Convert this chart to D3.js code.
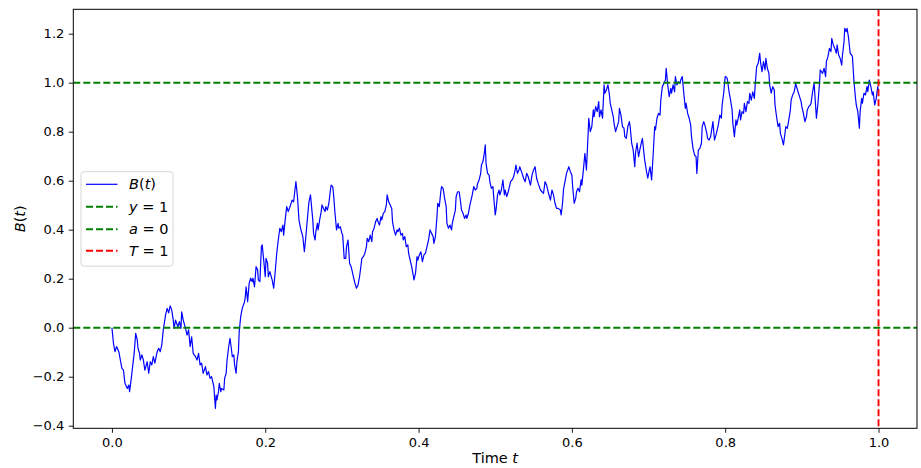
<!DOCTYPE html>
<html><head><meta charset="utf-8">
<script src="https://cdn.jsdelivr.net/npm/d3@7"></script>
<style>
body{margin:0;background:#fff;}
svg{display:block;font-family:"DejaVu Sans",sans-serif;}
</style></head>
<body><svg id="c" width="921" height="468"></svg>
<script>
const tVals = [0.000,0.002,0.004,0.006,0.009,0.011,0.013,0.015,0.017,0.020,0.022,0.023,0.025,0.027,0.029,0.031,0.033,0.034,0.036,0.037,0.039,0.041,0.043,0.046,0.048,0.050,0.052,0.054,0.056,0.059,0.061,0.063,0.065,0.067,0.070,0.072,0.074,0.076,0.078,0.080,0.081,0.083,0.086,0.088,0.090,0.091,0.093,0.096,0.098,0.100,0.102,0.104,0.106,0.109,0.111,0.113,0.115,0.117,0.119,0.122,0.124,0.126,0.128,0.130,0.133,
0.134,0.135,0.136,0.137,0.139,0.140,0.142,0.143,0.146,0.147,0.149,0.150,0.152,0.154,0.156,0.157,0.159,0.160,0.162,0.163,0.165,0.166,0.168,0.170,0.173,0.174,
0.175,0.176,0.177,0.179,0.181,0.183,0.184,0.186,0.187,0.188,0.190,0.191,0.193,0.195,0.196,0.198,0.200,0.201,0.203,0.204,0.206,0.209,0.211,0.213,0.215,0.217,0.219,0.221,0.223,0.224,0.226,0.228,0.230,0.233,0.235,0.237,0.239,0.240,0.242,0.244,0.246,0.249,0.251,0.253,0.255,0.257,0.259,
0.262,0.263,0.265,0.266,0.268,0.269,0.271,0.273,0.274,0.276,0.278,0.279,0.281,0.283,0.285,0.286,0.288,0.289,0.291,0.293,0.295,0.296,0.298,0.300,0.301,0.303,0.305,0.306,0.308,0.310,0.312,0.313,0.315,0.317,0.319,0.321,0.323,0.325,0.326,0.328,0.330,0.332,0.333,0.335,0.337,0.339,0.340,0.342,0.344,0.346,0.347,0.349,0.351,0.352,0.354,0.356,0.358,0.359,0.361,0.363,0.365,0.366,0.368,0.370,0.372,0.373,0.375,0.377,0.379,0.380,0.382,0.384,0.386,0.387,0.389,0.391,0.393,0.394,0.396,0.398,0.399,0.401,
0.403,0.405,0.407,0.409,0.411,0.413,0.415,0.417,0.419,0.420,0.422,0.424,0.425,0.427,0.429,0.430,0.432,0.434,0.436,0.437,0.439,0.441,0.443,0.444,0.446,0.448,0.449,0.451,0.453,0.455,0.456,0.458,0.460,0.462,0.463,0.465,0.467,0.469,0.470,0.472,0.474,0.476,0.477,0.479,0.481,0.482,0.484,0.486,0.487,0.488,0.490,0.492,0.493,0.495,0.497,0.498,0.500,0.501,0.503,0.505,0.506,0.508,0.510,0.512,0.513,0.515,0.517,0.519,0.520,0.522,0.524,0.526,0.527,0.529,0.531,0.532,
0.535,0.537,0.539,0.541,0.543,0.546,0.548,0.550,0.552,0.554,0.556,0.559,0.561,0.563,0.565,0.567,0.569,0.572,0.574,0.576,0.578,0.580,0.582,0.585,0.586,0.588,0.589,0.591,0.593,0.596,0.598,0.600,0.601,0.603,0.605,0.606,0.608,0.610,0.612,0.613,0.615,0.617,0.619,
0.621,0.622,0.624,0.626,0.628,0.629,0.631,0.633,0.635,0.636,0.638,0.640,0.642,0.643,0.645,0.647,0.649,0.650,0.652,0.654,0.655,0.657,0.659,0.661,0.662,0.664,0.666,0.668,0.669,0.671,0.673,0.675,0.676,0.678,0.680,0.682,0.683,0.685,0.687,0.689,0.690,0.692,0.694,0.695,0.697,0.699,0.701,0.702,0.704,0.706,0.708,0.709,0.711,0.713,0.715,0.716,0.718,0.720,0.722,0.723,0.725,0.727,0.729,0.730,0.732,0.734,0.735,0.737,0.739,0.741,0.742,0.744,0.746,0.748,0.749,0.751,0.753,0.755,0.756,0.758,0.760,0.762,0.763,0.765,0.767,0.769,0.770,0.772,0.774,0.776,0.777,0.779,0.781,0.782,0.784,0.786,0.788,0.789,0.791,0.793,0.795,0.796,0.798,0.800,0.802,0.803,0.805,0.807,0.809,0.810,
0.812,0.814,0.815,0.817,0.819,0.820,0.822,0.824,0.825,0.827,0.829,0.831,0.832,0.834,0.836,0.838,0.839,0.841,0.843,0.845,0.846,0.848,0.850,0.852,0.853,0.855,0.857,0.858,0.860,0.862,0.864,0.865,0.867,0.869,0.871,0.872,0.874,0.876,0.878,0.879,0.881,0.883,0.885,0.886,0.888,0.890,0.892,0.893,0.895,0.897,0.899,0.900,0.902,0.904,0.906,0.907,0.909,0.911,0.912,0.914,0.916,0.918,0.919,0.921,0.923,0.924,
0.927,0.929,0.931,0.932,0.934,0.936,0.938,0.939,0.941,0.943,0.945,0.946,0.948,0.950,0.952,0.953,0.955,0.956,0.958,0.959,0.961,0.963,0.965,0.966,0.968,0.970,0.971,0.973,0.975,0.976,0.978,0.979,0.981,0.983,0.985,0.986,0.988,0.990,0.992,0.993,0.995,0.997,0.999,1.000];
const bVals = [0.000,-0.064,-0.098,-0.077,-0.098,-0.132,-0.166,-0.173,-0.227,-0.248,-0.234,-0.261,-0.213,-0.159,-0.105,-0.023,-0.050,-0.084,-0.105,-0.132,-0.111,-0.132,-0.173,-0.139,-0.186,-0.139,-0.152,-0.118,-0.145,-0.098,-0.084,-0.098,-0.071,-0.009,0.052,0.079,0.061,0.089,0.072,0.031,-0.003,0.031,0.004,0.025,-0.003,0.065,0.031,-0.003,-0.030,-0.009,-0.077,-0.037,-0.105,-0.118,-0.132,-0.105,-0.152,-0.145,-0.186,-0.159,-0.193,-0.179,-0.207,-0.200,-0.241,
-0.288,-0.329,-0.275,-0.295,-0.261,-0.227,-0.261,-0.248,-0.254,-0.207,-0.186,-0.139,-0.084,-0.043,-0.091,-0.118,-0.111,-0.152,-0.186,-0.139,-0.098,-0.016,0.045,0.079,0.106,0.127,
0.167,0.140,0.106,0.181,0.202,0.188,0.202,0.167,0.208,0.249,0.236,0.195,0.188,0.331,0.338,0.276,0.208,0.283,0.263,0.208,0.229,0.195,0.161,0.229,0.304,0.358,0.406,0.392,0.419,0.378,0.440,0.494,0.474,0.501,0.521,0.514,0.569,0.596,0.535,0.440,0.406,0.372,0.310,0.372,0.446,0.514,0.542,
0.440,0.385,0.358,0.392,0.426,0.399,0.440,0.474,0.501,0.487,0.474,0.494,0.480,0.508,0.562,0.582,0.576,0.548,0.467,0.399,0.426,0.406,0.412,0.385,0.378,0.283,0.283,0.331,0.358,0.263,0.249,0.236,0.208,0.181,0.161,0.174,0.208,0.256,0.283,0.290,0.304,0.331,0.365,0.351,0.378,0.351,0.392,0.406,0.433,0.446,0.433,0.419,0.453,0.440,0.467,0.474,0.501,0.542,0.514,0.501,0.487,0.433,0.399,0.378,0.399,0.392,0.406,0.378,0.385,0.358,0.372,0.331,0.338,0.304,0.276,0.249,0.215,0.195,0.222,0.290,0.276,0.297,
0.310,0.270,0.297,0.304,0.331,0.358,0.399,0.385,0.372,0.344,0.372,0.453,0.508,0.494,0.555,0.576,0.569,0.528,0.494,0.426,0.406,0.419,0.399,0.426,0.453,0.480,0.535,0.555,0.555,0.508,0.480,0.467,0.446,0.460,0.446,0.467,0.501,0.528,0.542,0.576,0.562,0.569,0.589,0.603,0.630,0.664,0.678,0.718,0.746,0.671,0.630,0.623,0.596,0.569,0.576,0.535,0.460,0.480,0.542,0.562,0.542,0.562,0.603,0.542,0.562,0.535,0.555,0.582,0.596,0.603,0.616,0.644,0.664,0.630,0.644,0.657,
0.630,0.610,0.596,0.630,0.616,0.582,0.623,0.644,0.657,0.610,0.589,0.562,0.555,0.548,0.596,0.582,0.555,0.521,0.562,0.542,0.508,0.487,0.487,0.480,0.460,0.514,0.562,0.596,0.630,0.657,0.637,0.623,0.576,0.508,0.528,0.555,0.569,0.555,0.603,0.582,0.644,0.712,0.644,
0.780,0.855,0.800,0.821,0.889,0.861,0.902,0.882,0.923,0.861,0.889,0.855,0.991,0.957,0.970,0.991,0.950,0.916,0.889,0.861,0.834,0.800,0.821,0.841,0.895,0.868,0.821,0.814,0.780,0.773,0.821,0.841,0.821,0.753,0.725,0.657,0.712,0.753,0.698,0.732,0.746,0.773,0.712,0.684,0.644,0.610,0.644,0.657,0.603,0.705,0.821,0.807,0.855,0.875,0.868,0.929,0.984,0.997,1.011,1.059,0.991,0.943,0.977,0.957,0.991,0.963,1.025,0.991,1.004,0.997,1.011,1.025,0.957,0.895,0.916,0.875,0.855,0.827,0.780,0.732,0.705,0.698,0.630,0.725,0.732,0.753,0.821,0.841,0.821,0.793,0.773,0.766,0.780,0.800,0.841,0.766,0.787,0.800,0.827,0.868,0.855,0.909,0.957,1.025,1.022,1.011,0.963,0.929,0.889,0.834,
0.780,0.848,0.827,0.855,0.889,0.848,0.882,0.875,0.916,0.882,0.923,0.916,0.957,0.929,0.963,0.936,0.984,1.065,1.079,1.120,1.086,1.045,1.086,1.052,1.099,1.059,1.038,0.991,0.957,0.984,0.970,0.909,0.861,0.821,0.834,0.793,0.773,0.746,0.793,0.821,0.814,0.848,0.889,0.929,0.950,0.963,0.997,0.984,0.963,0.943,0.923,0.902,0.875,0.841,0.861,0.889,0.902,0.909,0.916,0.963,0.997,0.902,0.855,0.916,0.997,1.052,
1.038,1.059,1.025,1.086,1.106,1.140,1.127,1.181,1.154,1.140,1.120,1.154,1.113,1.099,1.072,1.113,1.167,1.222,1.208,1.222,1.181,1.120,1.113,1.106,1.004,0.936,0.909,0.882,0.814,0.882,0.936,0.916,0.957,0.950,0.984,0.963,1.011,0.984,0.950,0.963,0.909,0.936,0.984,0.963];

const xTicks = [0.0, 0.2, 0.4, 0.6, 0.8, 1.0];
const yTicks = [-0.4, -0.2, 0.0, 0.2, 0.4, 0.6, 0.8, 1.0, 1.2];
const yLevel = [1];
const aLevel = [0];
const TLevel = [1];
const legendLabels = [["B","(","t",")"], ["y"," = 1"], ["a"," = 0"], ["T"," = 1"]];

const svg = d3.select("#c");
const L = 73.3, R = 917, T = 9.3, B = 428.3;
const x = d3.scaleLinear().domain([-0.0504, 1.0502]).range([L, R]);
const y = d3.scaleLinear().domain([-0.4106, 1.2996]).range([B, T]);

const clip = svg.append("defs").append("clipPath").attr("id","pc").append("rect")
  .attr("x", L).attr("y", T).attr("width", R - L).attr("height", B - T);

const plot = svg.append("g").attr("clip-path","url(#pc)");
const data = tVals.map((t,i)=>[t,bVals[i]]);
plot.append("path").datum(data)
  .attr("d", d3.line().x(d=>x(d[0])).y(d=>y(d[1])))
  .attr("fill","none").attr("stroke","#0000ff").attr("stroke-width",1.2).attr("stroke-linejoin","round");

const dash = "7,3";
yLevel.forEach(v=>plot.append("line").attr("x1",L).attr("x2",R).attr("y1",y(v)).attr("y2",y(v))
  .attr("stroke","#008000").attr("stroke-width",1.9).attr("stroke-dasharray",dash));
aLevel.forEach(v=>plot.append("line").attr("x1",L).attr("x2",R).attr("y1",y(v)).attr("y2",y(v))
  .attr("stroke","#008000").attr("stroke-width",1.9).attr("stroke-dasharray",dash));
TLevel.forEach(v=>plot.append("line").attr("x1",x(v)).attr("x2",x(v)).attr("y1",T).attr("y2",B)
  .attr("stroke","#ff0000").attr("stroke-width",1.9).attr("stroke-dasharray",dash));

// axes
const xa = svg.append("g").attr("transform",`translate(0,${B})`)
  .call(d3.axisBottom(x).tickValues(xTicks).tickFormat(d3.format(".1f")).tickSizeOuter(0).tickSize(4.5).tickPadding(5));
const ya = svg.append("g").attr("transform",`translate(${L},0)`)
  .call(d3.axisLeft(y).tickValues(yTicks).tickFormat(d=>d3.format(".1f")(d).replace("-","\u2212")).tickSizeOuter(0).tickSize(4.5).tickPadding(4.5));
[xa,ya].forEach(g=>{
  g.select(".domain").remove();
  g.selectAll("line").attr("stroke","#000").attr("stroke-width",0.9);
  g.selectAll("text").attr("font-family","DejaVu Sans").attr("font-size",13).attr("fill","#000");
});
svg.append("rect").attr("x",L).attr("y",T).attr("width",R-L).attr("height",B-T)
  .attr("fill","none").attr("stroke","#000").attr("stroke-width",1);

// axis labels
const xl = svg.append("text").attr("x",(L+R)/2).attr("y",463).attr("text-anchor","middle")
  .attr("font-size",14.5).attr("fill","#000");
xl.append("tspan").text("Time ");
xl.append("tspan").attr("font-style","italic").text("t");
const yl = svg.append("text").attr("transform",`translate(25,${(T+B)/2}) rotate(-90)`).attr("text-anchor","middle")
  .attr("font-size",14.5).attr("fill","#000");
yl.append("tspan").attr("font-style","italic").text("B");
yl.append("tspan").text("(");
yl.append("tspan").attr("font-style","italic").text("t");
yl.append("tspan").text(")");

// legend
const lg = svg.append("g");
lg.append("rect").attr("x",81).attr("y",171.7).attr("width",92).attr("height",94.5).attr("rx",3)
  .attr("fill","#fff").attr("fill-opacity",0.8).attr("stroke","#d6d6d6").attr("stroke-width",1);
const rowY = [184.3, 206.7, 229.3, 250.7];
const colors = ["#0000ff","#008000","#008000","#ff0000"];
legendLabels.forEach((lab,i)=>{
  lg.append("line").attr("x1",86).attr("x2",117.5).attr("y1",rowY[i]).attr("y2",rowY[i])
    .attr("stroke",colors[i]).attr("stroke-width", i===0?1.2:1.9).attr("stroke-dasharray", i===0?null:dash);
  const tx = lg.append("text").attr("x",129).attr("y",rowY[i]+5).attr("font-size",14.5).attr("fill","#000");
  lab.forEach((s,j)=>{
    const italic = (s.length===1 && /[A-Za-z]/.test(s));
    tx.append("tspan").attr("font-style", italic?"italic":null).text(s);
  });
});
</script></body></html>
